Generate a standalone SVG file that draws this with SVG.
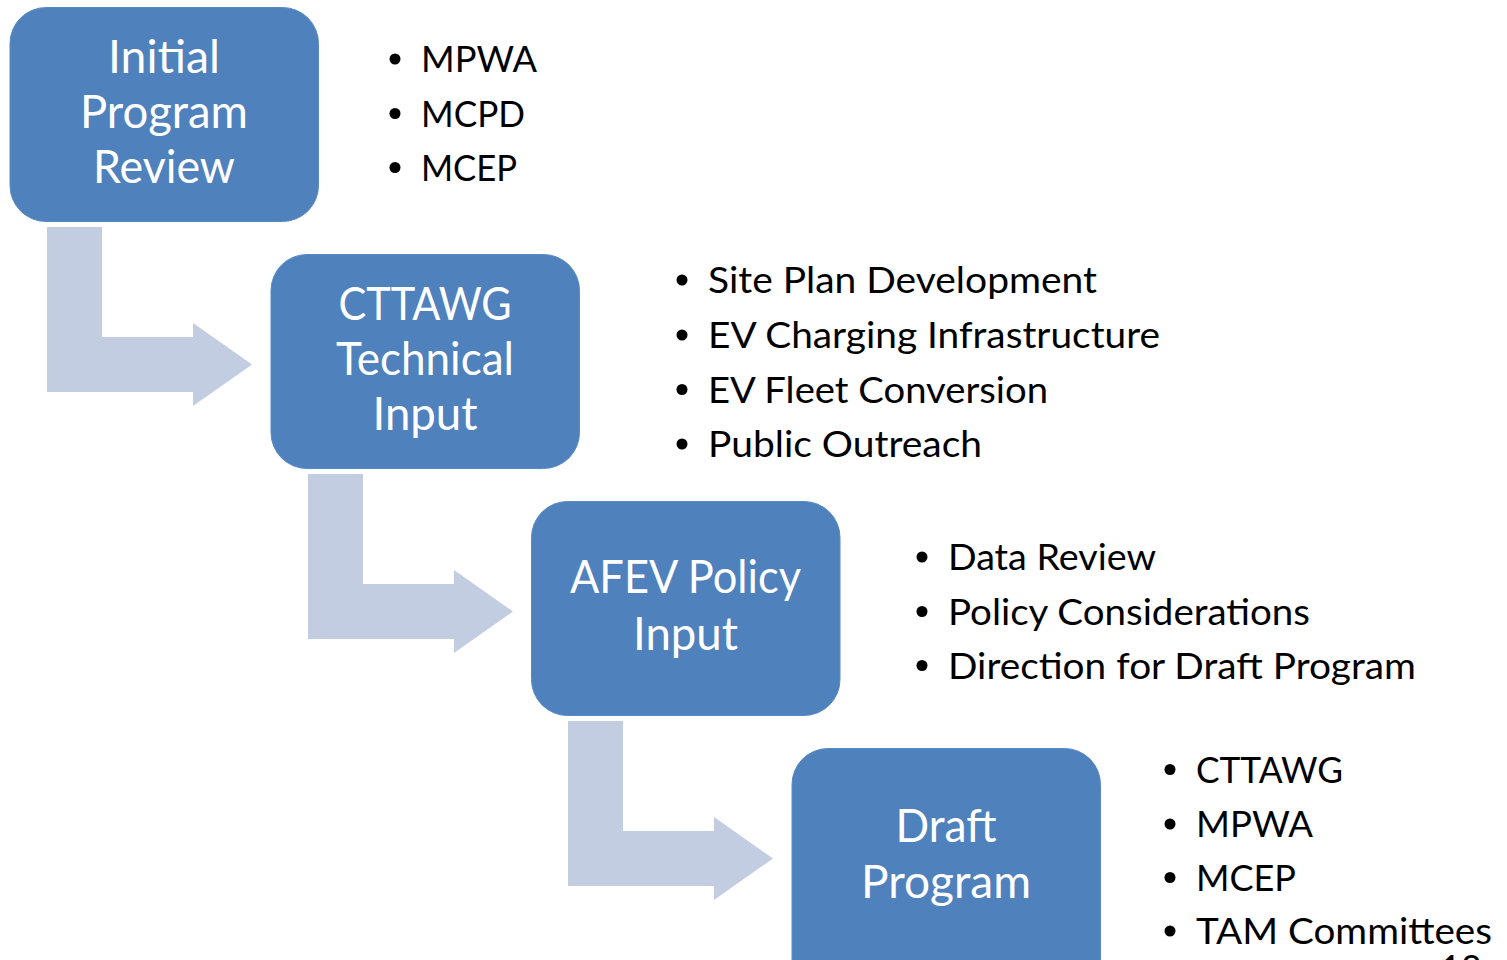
<svg xmlns="http://www.w3.org/2000/svg" width="1507" height="960" viewBox="0 0 1507 960">
<style>
.box{fill:#4f81bd;stroke:#5a8ac4;stroke-width:1}
.arrow{fill:#c2cde2}
.bt{font-family:Lato,"Open Sans","Liberation Sans",sans-serif;font-size:46px;fill:#ffffff;text-anchor:middle}
.lt{font-family:Lato,"Open Sans","Liberation Sans",sans-serif;font-size:36px;fill:#000000}
.dot{fill:#000000}
.pg{font-family:Lato,"Liberation Sans",sans-serif;font-size:38px;fill:#000000}
</style>
<rect width="1507" height="960" fill="#ffffff"/>
<g id="connectors">
<polygon id="arrow1" class="arrow" points="47,227 102,227 102,337 193,337 193,323 252,364.5 193,406 193,392 47,392"/>
<polygon id="arrow2" class="arrow" transform="translate(261,247)" points="47,227 102,227 102,337 193,337 193,323 252,364.5 193,406 193,392 47,392"/>
<polygon id="arrow3" class="arrow" transform="translate(521,494)" points="47,227 102,227 102,337 193,337 193,323 252,364.5 193,406 193,392 47,392"/>
</g>
<g id="node1">
<rect class="box" x="10" y="7.5" width="308.5" height="214" rx="36"/>
<text class="bt" x="164" y="73" textLength="112" lengthAdjust="spacingAndGlyphs">Initial</text>
<text class="bt" x="164" y="128" textLength="168" lengthAdjust="spacingAndGlyphs">Program</text>
<text class="bt" x="164" y="183" textLength="142" lengthAdjust="spacingAndGlyphs">Review</text>
</g>
<g id="node2">
<rect class="box" x="271" y="254.5" width="308.5" height="214" rx="36"/>
<text class="bt" x="425" y="320" textLength="173" lengthAdjust="spacingAndGlyphs">CTTAWG</text>
<text class="bt" x="425" y="375" textLength="178" lengthAdjust="spacingAndGlyphs">Technical</text>
<text class="bt" x="425" y="430" textLength="105" lengthAdjust="spacingAndGlyphs">Input</text>
</g>
<g id="node3">
<rect class="box" x="531.5" y="501.5" width="308.5" height="214" rx="36"/>
<text class="bt" x="685.5" y="593" textLength="231" lengthAdjust="spacingAndGlyphs">AFEV Policy</text>
<text class="bt" x="685.5" y="650" textLength="105" lengthAdjust="spacingAndGlyphs">Input</text>
</g>
<g id="node4">
<rect class="box" x="792" y="748.5" width="308.5" height="260" rx="36"/>
<text class="bt" x="946" y="842" textLength="101" lengthAdjust="spacingAndGlyphs">Draft</text>
<text class="bt" x="946" y="898" textLength="170" lengthAdjust="spacingAndGlyphs">Program</text>
</g>
<g id="list1">
<circle class="dot" cx="395" cy="59" r="5.5"/>
<text class="lt" x="421" y="72" textLength="116" lengthAdjust="spacingAndGlyphs">MPWA</text>
<circle class="dot" cx="395" cy="113.5" r="5.5"/>
<text class="lt" x="421" y="126.5" textLength="104" lengthAdjust="spacingAndGlyphs">MCPD</text>
<circle class="dot" cx="395" cy="167.5" r="5.5"/>
<text class="lt" x="421" y="180.5" textLength="96" lengthAdjust="spacingAndGlyphs">MCEP</text>
</g>
<g id="list2">
<circle class="dot" cx="682" cy="280" r="5.5"/>
<text class="lt" x="708" y="293" textLength="389" lengthAdjust="spacingAndGlyphs">Site Plan Development</text>
<circle class="dot" cx="682" cy="335" r="5.5"/>
<text class="lt" x="708" y="348" textLength="452" lengthAdjust="spacingAndGlyphs">EV Charging Infrastructure</text>
<circle class="dot" cx="682" cy="389.5" r="5.5"/>
<text class="lt" x="708" y="402.5" textLength="340" lengthAdjust="spacingAndGlyphs">EV Fleet Conversion</text>
<circle class="dot" cx="682" cy="444" r="5.5"/>
<text class="lt" x="708" y="457" textLength="274" lengthAdjust="spacingAndGlyphs">Public Outreach</text>
</g>
<g id="list3">
<circle class="dot" cx="922" cy="557" r="5.5"/>
<text class="lt" x="948" y="570" textLength="208" lengthAdjust="spacingAndGlyphs">Data Review</text>
<circle class="dot" cx="922" cy="611.5" r="5.5"/>
<text class="lt" x="948" y="624.5" textLength="362" lengthAdjust="spacingAndGlyphs">Policy Considerations</text>
<circle class="dot" cx="922" cy="665.5" r="5.5"/>
<text class="lt" x="948" y="678.5" textLength="468" lengthAdjust="spacingAndGlyphs">Direction for Draft Program</text>
</g>
<g id="list4">
<circle class="dot" cx="1170" cy="769.5" r="5.5"/>
<text class="lt" x="1196" y="782.5" textLength="147" lengthAdjust="spacingAndGlyphs">CTTAWG</text>
<circle class="dot" cx="1170" cy="824" r="5.5"/>
<text class="lt" x="1196" y="837" textLength="117" lengthAdjust="spacingAndGlyphs">MPWA</text>
<circle class="dot" cx="1170" cy="877.5" r="5.5"/>
<text class="lt" x="1196" y="890.5" textLength="100" lengthAdjust="spacingAndGlyphs">MCEP</text>
<circle class="dot" cx="1170" cy="931" r="5.5"/>
<text class="lt" x="1196" y="944" textLength="296" lengthAdjust="spacingAndGlyphs">TAM Committees</text>
</g>
<text class="pg" x="1440" y="983" textLength="42" lengthAdjust="spacingAndGlyphs">18</text>
</svg>
